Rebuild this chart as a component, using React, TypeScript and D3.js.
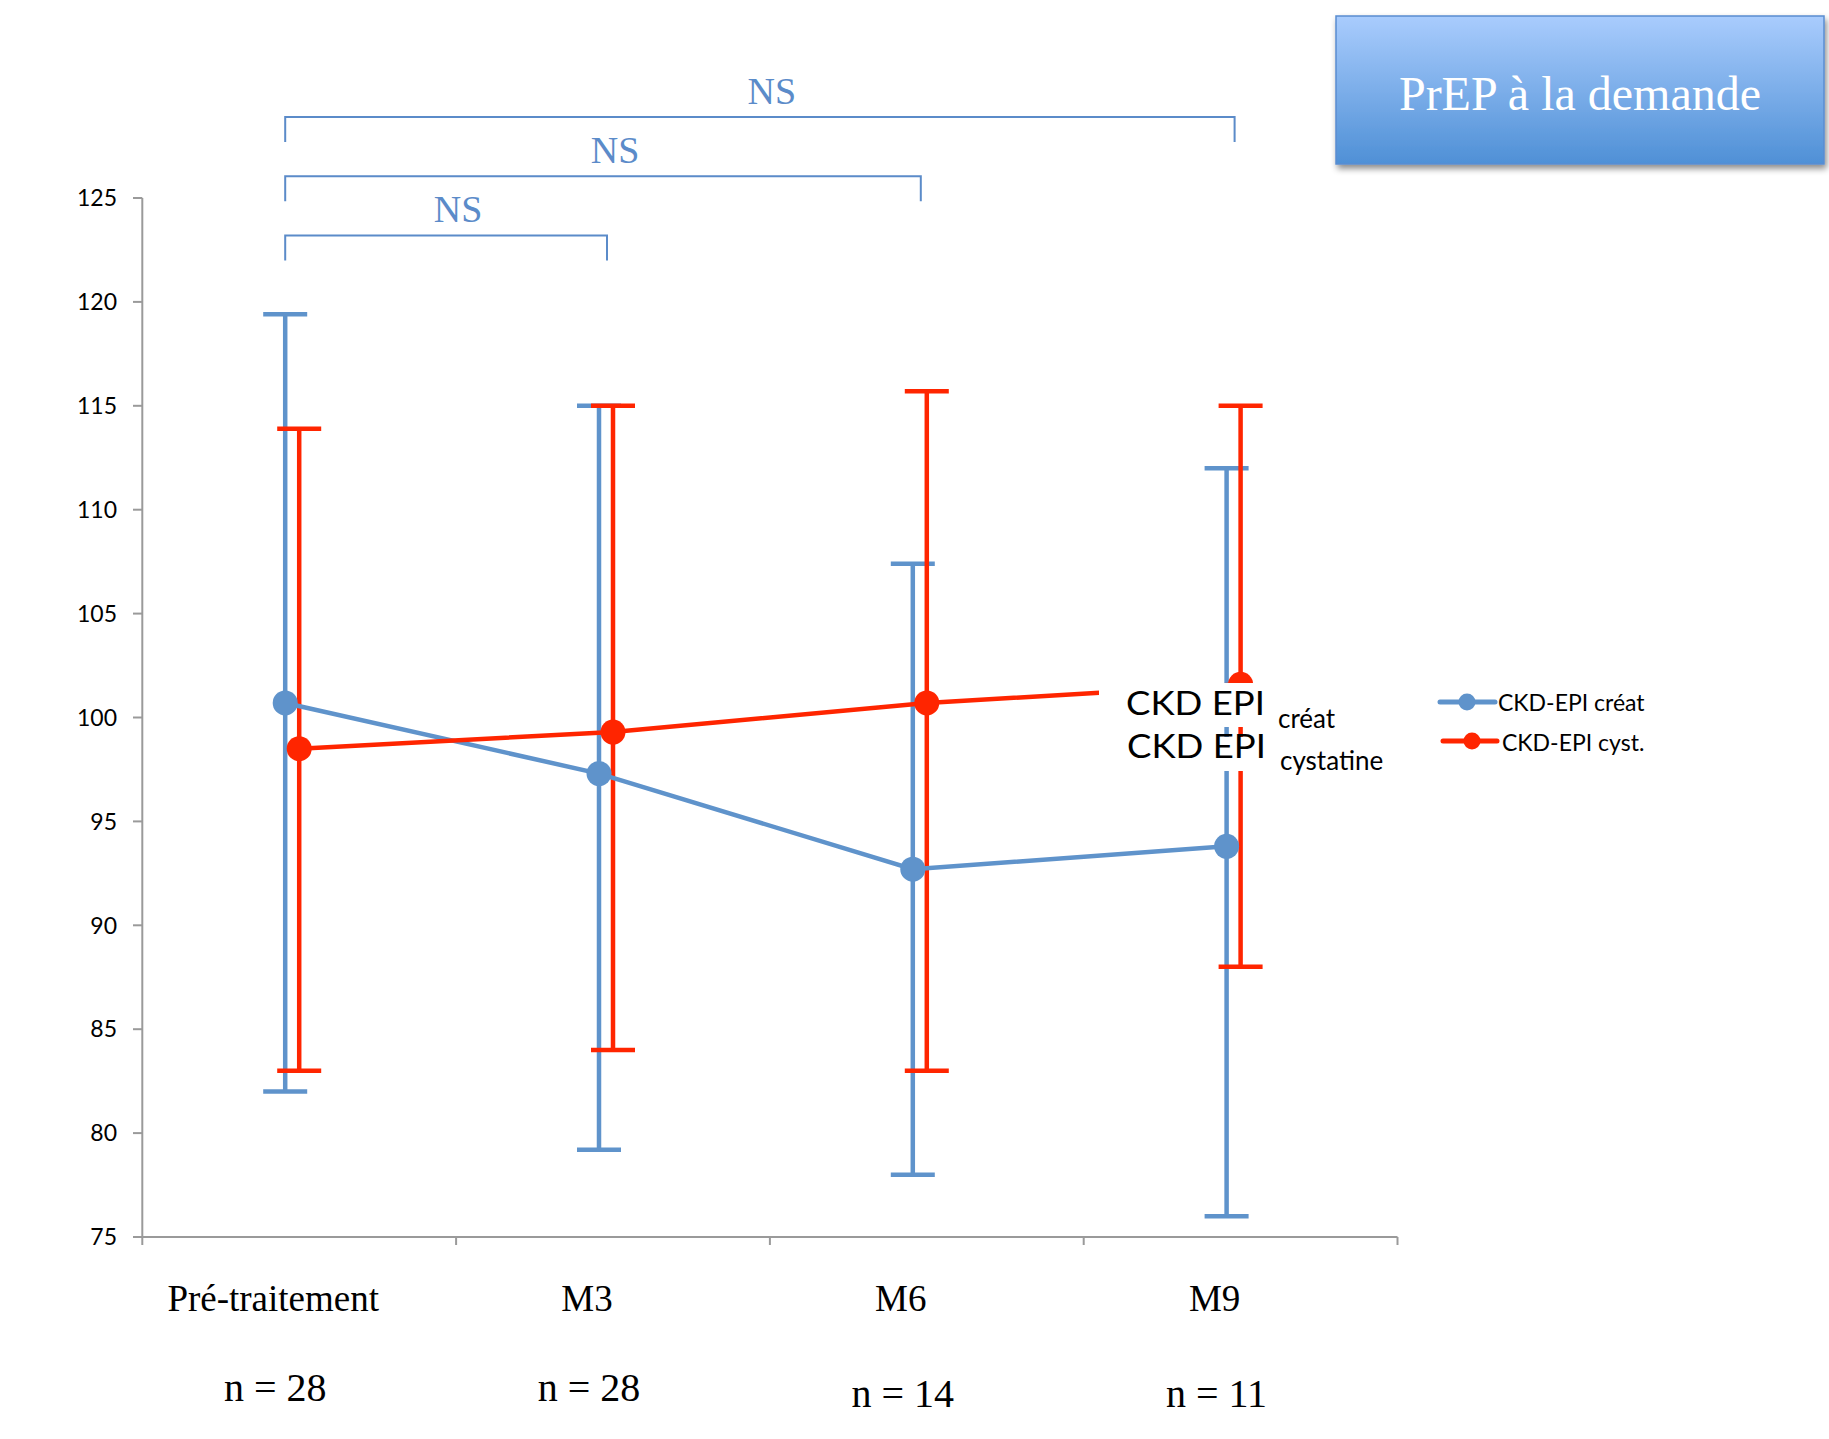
import * as d3 from 'd3';

const categories = ['Pré-traitement', 'M3', 'M6', 'M9'];
const counts = ['n = 28', 'n = 28', 'n = 14', 'n = 11'];
const yTicks = [75, 80, 85, 90, 95, 100, 105, 110, 115, 120, 125];

// CKD-EPI créatinine : moyenne et barres d'erreur
const creatMean = [100.7, 97.3, 92.7, 93.8];
const creatHigh = [119.4, 115.0, 107.4, 112.0];
const creatLow = [82.0, 79.2, 78.0, 76.0];

// CKD-EPI cystatine
const cystMean = [98.5, 99.3, 100.7, 101.6];
const cystHigh = [113.9, 115.0, 115.7, 115.0];
const cystLow = [83.0, 84.0, 83.0, 88.0];

const comparisons = [
  { from: 'Pré-traitement', to: 'M9', label: 'NS', level: 128.9 },
  { from: 'Pré-traitement', to: 'M6', label: 'NS', level: 126.05 },
  { from: 'Pré-traitement', to: 'M3', label: 'NS', level: 123.2 },
];

const BLUE = '#5f93cb';
const RED = '#ff2500';
const NS_BLUE = '#5b8bc9';
const serif = '"Liberation Serif", "Times New Roman", serif';
const sans = 'Lato, "Noto Sans", sans-serif';

export default function App() {
  const x = d3.scaleBand().domain(categories).range([142.3, 1397.5]);
  const y = d3.scaleLinear().domain([75, 125]).range([1237, 198]);
  const cx = (c) => x(c) + x.bandwidth() / 2;
  const blueX = (c) => cx(c) - 14;

  const creatPts = categories.map((c, i) => [blueX(c), y(creatMean[i])]);
  const cystPts = categories.map((c, i) => [cx(c), y(cystMean[i])]);
  const line = d3.line();

  const errorBars = (xs, hi, lo, color, key) =>
    categories.map((c, i) => (
      <g key={key + i} stroke={color} strokeWidth={4.5}>
        <line x1={xs(c)} x2={xs(c)} y1={y(hi[i])} y2={y(lo[i])} />
        <line x1={xs(c) - 22} x2={xs(c) + 22} y1={y(hi[i])} y2={y(hi[i])} />
        <line x1={xs(c) - 22} x2={xs(c) + 22} y1={y(lo[i])} y2={y(lo[i])} />
      </g>
    ));

  return (
    <svg width={1829} height={1439} style={{ position: 'absolute', left: 0, top: 0, background: '#fff' }}>
      <defs>
        <linearGradient id="titleGrad" x1="0" y1="0" x2="0" y2="1">
          <stop offset="0%" stopColor="#a9ccfd" />
          <stop offset="100%" stopColor="#4f90d6" />
        </linearGradient>
        <filter id="shadow" x="-10%" y="-20%" width="130%" height="150%">
          <feDropShadow dx="2" dy="4" stdDeviation="3" floodColor="#000" floodOpacity="0.45" />
        </filter>
      </defs>

      {/* axes */}
      <line x1={142.3} x2={142.3} y1={y(125)} y2={y(75)} stroke="#9a9a9a" strokeWidth={2} />
      <line x1={142.3} x2={1397.5} y1={y(75)} y2={y(75)} stroke="#9a9a9a" strokeWidth={2} />
      {yTicks.map((t) => (
        <g key={t}>
          <line x1={133} x2={142.3} y1={y(t)} y2={y(t)} stroke="#9a9a9a" strokeWidth={2} />
          <text x={117} y={y(t)} dy="0.36em" textAnchor="end" fontFamily={sans} fontSize={23} fill="#000">
            {t}
          </text>
        </g>
      ))}
      {[...categories.map((c) => x(c)), 1397.5].map((v, i) => (
        <line key={i} x1={v} x2={v} y1={y(75)} y2={y(75) + 8} stroke="#9a9a9a" strokeWidth={2} />
      ))}
      {categories.map((c, i) => (
        <g key={c} fontFamily={serif} fill="#000" textAnchor="middle">
          <text x={cx(c) - 26} y={1311} fontSize={37}>{c}</text>
          <text x={cx(c) - 24} y={i < 2 ? 1401 : 1407} fontSize={40}>{counts[i]}</text>
        </g>
      ))}

      {/* error bars */}
      {errorBars(blueX, creatHigh, creatLow, BLUE, 'b')}
      {errorBars(cx, cystHigh, cystLow, RED, 'r')}

      {/* series */}
      <path d={line(creatPts)} fill="none" stroke={BLUE} strokeWidth={4.5} />
      <path d={line(cystPts)} fill="none" stroke={RED} strokeWidth={4.5} />
      {creatPts.map((p, i) => <circle key={'bc' + i} cx={p[0]} cy={p[1]} r={12.5} fill={BLUE} />)}
      {cystPts.map((p, i) => <circle key={'rc' + i} cx={p[0]} cy={p[1]} r={12.5} fill={RED} />)}

      {/* overlaid label boxes */}
      <rect x={1099} y={683} width={170} height={44} fill="#fff" />
      <rect x={1115} y={737} width={158} height={34} fill="#fff" />
      <g fontFamily={sans} fill="#000">
        <text x={1126} y={715} fontSize={33} textLength={139} lengthAdjust="spacingAndGlyphs">CKD EPI</text>
        <text x={1278} y={728} fontSize={26}>créat</text>
        <text x={1127} y={758} fontSize={33} textLength={139} lengthAdjust="spacingAndGlyphs">CKD EPI</text>
        <text x={1280} y={770} fontSize={26}>cystatine</text>
      </g>

      {/* legend */}
      <g>
        <line x1={1440} x2={1495} y1={702} y2={702} stroke={BLUE} strokeWidth={5} strokeLinecap="round" />
        <circle cx={1467} cy={702} r={8.5} fill={BLUE} />
        <text x={1498} y={711} fontFamily={sans} fontSize={23} fill="#000">CKD-EPI créat</text>
        <line x1={1443} x2={1497} y1={741} y2={741} stroke={RED} strokeWidth={5} strokeLinecap="round" />
        <circle cx={1472} cy={741} r={8.5} fill={RED} />
        <text x={1502} y={751} fontFamily={sans} fontSize={23} fill="#000">CKD-EPI cyst.</text>
      </g>

      {/* significance brackets */}
      {comparisons.map((cmp) => {
        const x1 = blueX(cmp.from);
        const x2 = cx(cmp.to) - 6;
        const yy = y(cmp.level);
        return (
          <g key={cmp.to}>
            <path
              d={`M${x1},${yy + 25}V${yy}H${x2}V${yy + 25}`}
              fill="none"
              stroke={NS_BLUE}
              strokeWidth={2}
            />
            <text x={(x1 + x2) / 2 + 12} y={yy - 13} textAnchor="middle" fontFamily={serif} fontSize={38} fill={NS_BLUE}>
              {cmp.label}
            </text>
          </g>
        );
      })}

      {/* title box */}
      <rect x={1336} y={16} width={488} height={148} fill="url(#titleGrad)" stroke="#5a8cd0" strokeWidth={1.5} filter="url(#shadow)" />
      <text x={1580} y={110} textAnchor="middle" fontFamily={serif} fontSize={48} fill="#fff">
        PrEP à la demande
      </text>
    </svg>
  );
}
